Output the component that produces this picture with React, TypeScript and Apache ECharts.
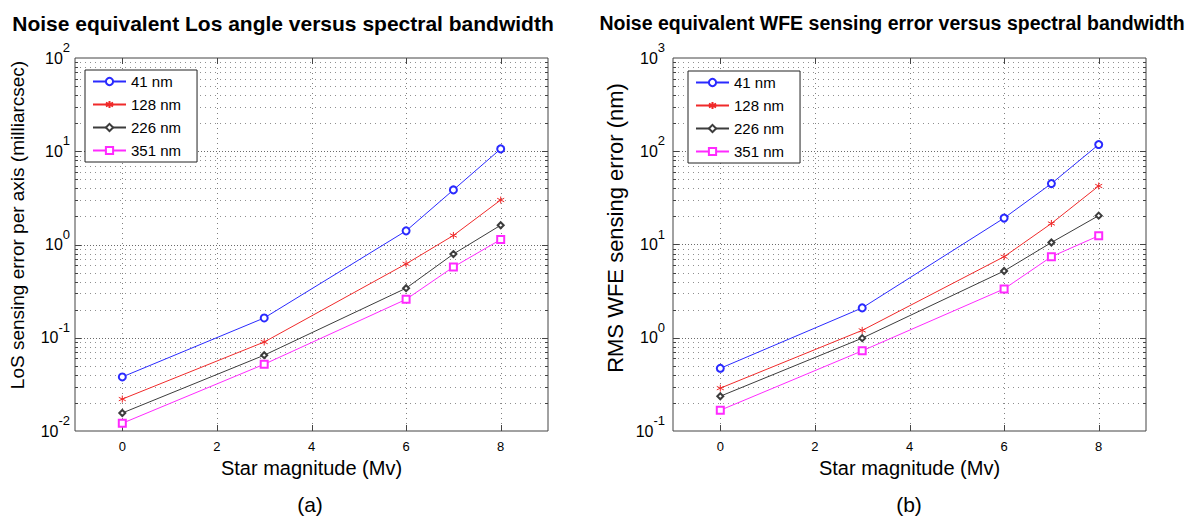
import React, { useEffect, useRef } from 'react';
import * as echarts from 'echarts';

const magnitudes = [0, 3, 6, 7, 8];
const bandNames = ['41 nm', '128 nm', '226 nm', '351 nm'];
const losBlue = [0.038, 0.163, 1.4, 3.85, 10.6];
const losRed = [0.022, 0.09, 0.62, 1.25, 3.0];
const losBlack = [0.0156, 0.065, 0.34, 0.79, 1.61];
const losMagenta = [0.0121, 0.052, 0.258, 0.574, 1.13];
const wfeBlue = [0.47, 2.09, 19.2, 45, 118];
const wfeRed = [0.288, 1.2, 7.4, 16.8, 42.4];
const wfeBlack = [0.236, 0.99, 5.2, 10.5, 20.4];
const wfeMagenta = [0.167, 0.724, 3.34, 7.4, 12.4];
const xTicks = [0, 2, 4, 6, 8];
const losDecades = [0.01, 0.1, 1, 10, 100];
const wfeDecades = [0.1, 1, 10, 100, 1000];
const minorFactors = [2, 3, 4, 5, 6, 7, 8, 9];

const FONT = '"Liberation Sans", Arial, Helvetica, sans-serif';
const colors = ['#2a2aff', '#f02a2a', '#3c3c3c', '#ff2aff'];
const ASTERISK = 'path://M5,0L5,10M0.67,2.5L9.33,7.5M0.67,7.5L9.33,2.5';
const symbols = ['emptyCircle', ASTERISK, 'emptyDiamond', 'emptyRect'];
const symbolSizes = [7, 7, 6, 7];

function yGridData(decades: number[]) {
  const out: number[][] = [];
  decades.forEach((d, i) => {
    if (i > 0 && i < decades.length - 1) out.push([0, d, 1]);
    if (i < decades.length - 1) minorFactors.forEach((k) => out.push([0, k * d, 0]));
  });
  return out;
}

export default function App() {
  const ref = useRef<HTMLDivElement>(null);
  useEffect(() => {
    if (!ref.current) return;
    const chart = echarts.init(ref.current, undefined, { renderer: 'svg' });

    const grids = [
      { left: 75, top: 58, width: 473, height: 373 },
      { left: 673, top: 58, width: 473, height: 373 },
    ];
    const decadesList = [losDecades, wfeDecades];
    const dataSets = [
      [losBlue, losRed, losBlack, losMagenta],
      [wfeBlue, wfeRed, wfeBlack, wfeMagenta],
    ];

    const yGridRender = (params: any, api: any) => {
      const cs = params.coordSys;
      const v = api.value(1);
      const major = api.value(2) === 1;
      const y = Math.round(api.coord([0, v])[1]) + 0.5;
      const l = cs.x;
      const r = cs.x + cs.width;
      const tl = major ? 6 : 3;
      return {
        type: 'group',
        children: [
          { type: 'line', shape: { x1: l, y1: y, x2: r, y2: y }, style: { stroke: major ? '#6a6a6a' : '#8f8f8f', lineWidth: 1, lineDash: major ? [1, 2] : [1, 4] } },
          { type: 'line', shape: { x1: l, y1: y, x2: l + tl, y2: y }, style: { stroke: '#444', lineWidth: 1 } },
          { type: 'line', shape: { x1: r - tl, y1: y, x2: r, y2: y }, style: { stroke: '#444', lineWidth: 1 } },
        ],
      };
    };
    const xGridRender = (params: any, api: any) => {
      const cs = params.coordSys;
      const x = Math.round(api.coord([api.value(0), api.value(1)])[0]) + 0.5;
      const t = cs.y;
      const b = cs.y + cs.height;
      return {
        type: 'group',
        children: [
          { type: 'line', shape: { x1: x, y1: t, x2: x, y2: b }, style: { stroke: '#808080', lineWidth: 1, lineDash: [1, 4] } },
          { type: 'line', shape: { x1: x, y1: t, x2: x, y2: t + 6 }, style: { stroke: '#444', lineWidth: 1 } },
          { type: 'line', shape: { x1: x, y1: b - 6, x2: x, y2: b }, style: { stroke: '#444', lineWidth: 1 } },
        ],
      };
    };

    const series: any[] = [];
    [0, 1].forEach((g) => {
      series.push({
        type: 'custom', xAxisIndex: g, yAxisIndex: g, silent: true, z: 1,
        renderItem: yGridRender, data: yGridData(decadesList[g]),
      });
      series.push({
        type: 'custom', xAxisIndex: g, yAxisIndex: g, silent: true, z: 1,
        renderItem: xGridRender, data: xTicks.map((t) => [t, decadesList[g][0]]),
      });
      dataSets[g].forEach((vals, i) => {
        series.push({
          name: bandNames[i], type: 'line', xAxisIndex: g, yAxisIndex: g, z: 3,
          data: magnitudes.map((m, j) => [m, vals[j]]),
          symbol: symbols[i], symbolSize: symbolSizes[i], showSymbol: true,
          lineStyle: { color: colors[i], width: 1 },
          itemStyle: { color: colors[i], borderColor: colors[i], borderWidth: 1 },
        });
      });
    });

    const xAxes = [0, 1].map((g) => ({
      type: 'value', gridIndex: g, min: -1, max: 9, interval: 1,
      axisLine: { show: false }, axisTick: { show: false }, splitLine: { show: false },
      axisLabel: {
        margin: 9, fontSize: 13, color: '#000', fontFamily: FONT,
        formatter: (v: number) => (v >= 0 && v <= 8 && v % 2 === 0 ? String(v) : ''),
      },
      name: 'Star magnitude (Mv)', nameLocation: 'middle', nameGap: 24,
      nameTextStyle: { fontSize: 20, color: '#000', fontFamily: FONT },
    }));
    const yAxes = [0, 1].map((g) => ({
      type: 'log', logBase: 10, gridIndex: g,
      min: decadesList[g][0], max: decadesList[g][4],
      axisLine: { show: false }, axisTick: { show: false }, splitLine: { show: false },
      minorTick: { show: false }, minorSplitLine: { show: false },
      axisLabel: {
        margin: g === 0 ? 5 : 8, color: '#000',
        formatter: (v: number) => `{b|10}{e|${Math.round(Math.log10(v))}}`,
        rich: {
          b: { fontSize: 16, lineHeight: 34, verticalAlign: 'middle', fontFamily: FONT, color: '#000' },
          e: { fontSize: 13, lineHeight: 14, verticalAlign: 'top', fontFamily: FONT, color: '#000' },
        },
      },
    }));

    const legendBase = {
      orient: 'vertical', data: bandNames, itemWidth: 33, itemHeight: 9, itemGap: 6,
      padding: [3, 16, 3, 7], backgroundColor: '#fff', borderColor: '#222', borderWidth: 1,
      borderRadius: 0, selectedMode: false,
      textStyle: { fontFamily: FONT, fontSize: 15, lineHeight: 17, color: '#000' },
    };

    chart.setOption({
      animation: false,
      backgroundColor: '#fff',
      grid: grids.map((gr) => ({ ...gr, show: true, borderColor: '#444', borderWidth: 1, backgroundColor: '#fff' })),
      xAxis: xAxes,
      yAxis: yAxes,
      legend: [
        { ...legendBase, left: 85, top: 70 },
        { ...legendBase, left: 688, top: 71 },
      ],
      series,
      graphic: [
        { type: 'text', x: 283, y: 23, style: { text: 'Noise equivalent Los angle versus spectral bandwidth', font: `bold 21px ${FONT}`, fill: '#000', textAlign: 'center', textVerticalAlign: 'middle' } },
        { type: 'text', x: 892, y: 23, style: { text: 'Noise equivalent WFE sensing error versus spectral bandwidth', font: `bold 19.5px ${FONT}`, fill: '#000', textAlign: 'center', textVerticalAlign: 'middle' } },
        { type: 'text', x: 17, y: 225, rotation: Math.PI / 2, style: { text: 'LoS sensing error per axis (milliarcsec)', font: `19px ${FONT}`, fill: '#000', textAlign: 'center', textVerticalAlign: 'middle' } },
        { type: 'text', x: 615, y: 228, rotation: Math.PI / 2, style: { text: 'RMS WFE sensing error (nm)', font: `22px ${FONT}`, fill: '#000', textAlign: 'center', textVerticalAlign: 'middle' } },
        { type: 'text', x: 310, y: 504, style: { text: '(a)', font: `21px ${FONT}`, fill: '#000', textAlign: 'center', textVerticalAlign: 'middle' } },
        { type: 'text', x: 909, y: 504, style: { text: '(b)', font: `21px ${FONT}`, fill: '#000', textAlign: 'center', textVerticalAlign: 'middle' } },
      ],
    });
    return () => chart.dispose();
  }, []);
  return <div ref={ref} style={{ position: 'absolute', left: 0, top: 0, width: 1191, height: 518 }} />;
}
